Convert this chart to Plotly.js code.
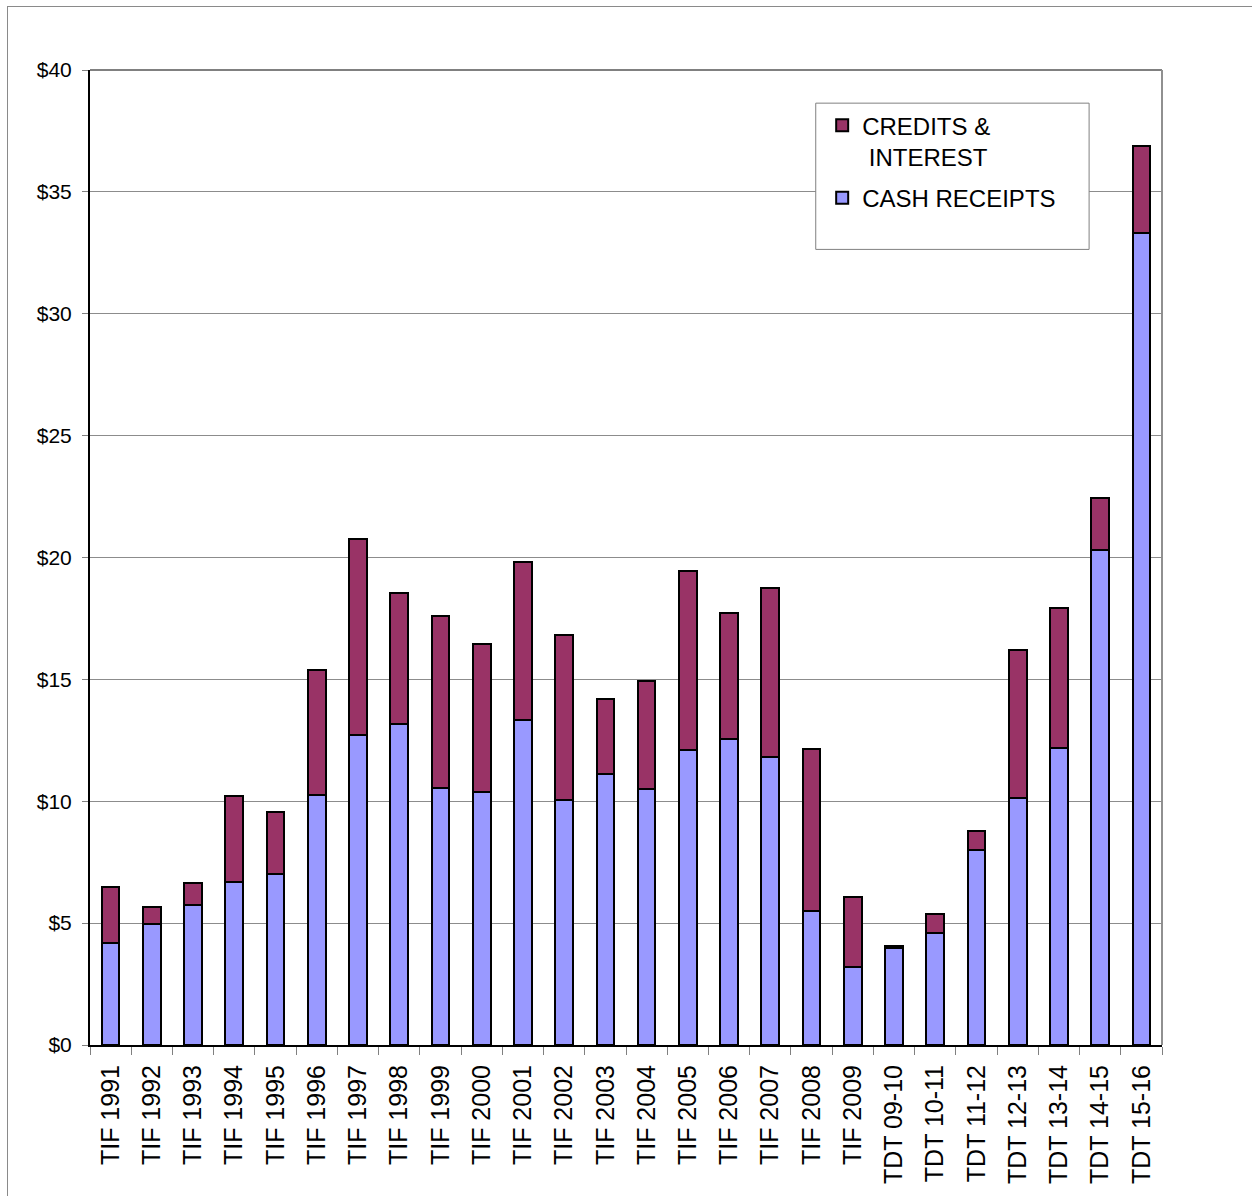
<!DOCTYPE html>
<html>
<head>
<meta charset="utf-8">
<script src="https://cdn.plot.ly/plotly-3.0.1.min.js"></script>
<style>
  html, body { margin: 0; padding: 0; background: #fff; }
  #wrap { position: relative; width: 1252px; height: 1196px; }
  #chart { width: 1252px; height: 1196px; }
  #frame { position: absolute; left: 7px; top: 6px; right: 0; bottom: 0;
           border-left: 1px solid #8a8a8a; border-top: 1px solid #8a8a8a; pointer-events: none; }
</style>
</head>
<body>
<div id="wrap">
  <div id="chart"></div>
  <div id="frame"></div>
</div>
<script>
const categories = ["TIF 1991","TIF 1992","TIF 1993","TIF 1994","TIF 1995","TIF 1996","TIF 1997",
  "TIF 1998","TIF 1999","TIF 2000","TIF 2001","TIF 2002","TIF 2003","TIF 2004","TIF 2005",
  "TIF 2006","TIF 2007","TIF 2008","TIF 2009","TDT 09-10","TDT 10-11","TDT 11-12","TDT 12-13",
  "TDT 13-14","TDT 14-15","TDT 15-16"];

const cashReceipts = [4.18, 4.98, 5.74, 6.69, 7.03, 10.27, 12.71, 13.18, 10.55, 10.39, 13.33, 10.07,
  11.11, 10.50, 12.10, 12.54, 11.83, 5.48, 3.20, 4.00, 4.59, 8.00, 10.15, 12.17, 20.31, 33.30];

const creditsInterest = [2.30, 0.67, 0.91, 3.53, 2.53, 5.12, 8.06, 5.36, 7.05, 6.07, 6.50, 6.74,
  3.09, 4.42, 7.34, 5.20, 6.92, 6.66, 2.87, 0.05, 0.80, 0.77, 6.05, 5.76, 2.13, 3.60];

const yTickVals = [0, 5, 10, 15, 20, 25, 30, 35, 40];
const yTickText = ["$0","$5","$10","$15","$20","$25","$30","$35","$40"];

const FONT = "Arial, 'Liberation Sans', sans-serif";

const traces = [
  {
    type: "bar", name: "CASH RECEIPTS", x: categories, y: cashReceipts,
    legendgroup: "cash", legendrank: 2,
    marker: { color: "#9999FF", line: { color: "#000000", width: 2 } }
  },
  {
    type: "bar", name: "CREDITS &amp;<br> INTEREST", x: categories, y: creditsInterest,
    legendgroup: "credits", legendrank: 1,
    marker: { color: "#993366", line: { color: "#000000", width: 2 } }
  }
];

const layout = {
  width: 1252, height: 1196,
  margin: { l: 90, r: 90, t: 70, b: 151, pad: 0 },
  paper_bgcolor: "#ffffff", plot_bgcolor: "#ffffff",
  barmode: "stack", bargap: 0.57,
  font: { family: FONT, color: "#000000" },
  showlegend: true,
  legend: {
    x: 0.683, y: 0.966, xanchor: "left", yanchor: "top",
    traceorder: "grouped", bgcolor: "rgba(0,0,0,0)", borderwidth: 0,
    font: { family: FONT, size: 24, color: "#000" },
    itemwidth: 30, tracegroupgap: 7, valign: "top"
  },
  xaxis: {
    type: "category", tickangle: -90, tickfont: { family: FONT, size: 25, color: "#000" },
    showline: true, linecolor: "#000000", linewidth: 2,
    ticks: "outside", ticklen: 8, tickcolor: "#808080", tickwidth: 1,
    tickson: "boundaries", ticklabelstandoff: 8,
    showgrid: false, zeroline: false, fixedrange: true
  },
  yaxis: {
    range: [0, 40], tickvals: yTickVals, ticktext: yTickText,
    tickfont: { family: FONT, size: 21, color: "#000" },
    showline: true, linecolor: "#000000", linewidth: 2,
    ticks: "outside", ticklen: 6, tickcolor: "#808080", ticklabelstandoff: 6,
    showgrid: true, gridcolor: "#8c8c8c", gridwidth: 1, zeroline: false, fixedrange: true
  },
  shapes: [
    { type: "line", xref: "paper", yref: "paper", x0: 0, x1: 1, y0: 1, y1: 1,
      line: { color: "#808080", width: 2 }, layer: "below" },
    { type: "line", xref: "paper", yref: "paper", x0: 1, x1: 1, y0: 0, y1: 1,
      line: { color: "#909090", width: 2 }, layer: "below" },
    { type: "rect", xref: "paper", yref: "paper", x0: 0.677, x1: 0.932, y0: 0.816, y1: 0.966,
      fillcolor: "#ffffff", line: { color: "#808080", width: 1 }, layer: "above" }
  ]
};

Plotly.newPlot("chart", traces, layout, { displayModeBar: false, staticPlot: true });
</script>
</body>
</html>
